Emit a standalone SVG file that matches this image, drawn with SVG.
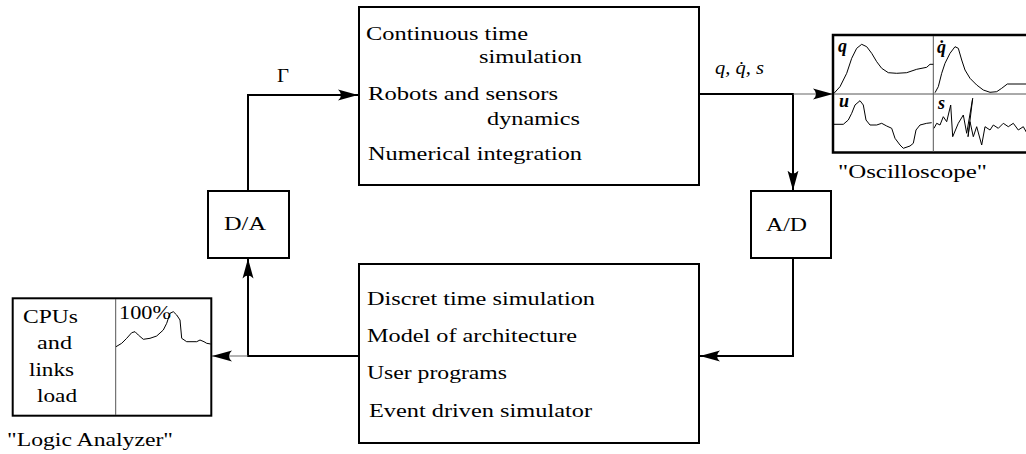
<svg xmlns="http://www.w3.org/2000/svg" width="1026" height="454" viewBox="0 0 1026 454">
<style>
.t{font-family:"Liberation Serif","Times New Roman",serif;font-size:19px;fill:#000}
.m{font-family:"Liberation Serif","Times New Roman",serif;font-style:italic;font-size:19px;fill:#000}
.ml{font-family:"Liberation Serif","Times New Roman",serif;font-style:italic;font-weight:bold;font-size:18px;fill:#000}
.box{fill:#fff;stroke:#000;stroke-width:2}
.div{fill:none;stroke:#555;stroke-width:1}
.wave{fill:none;stroke:#000;stroke-width:1;stroke-linejoin:round}
.c{fill:none;stroke:#000;stroke-width:2}
.cg{fill:none;stroke:#666;stroke-width:1.2}
</style>
<defs>
<marker id="ah" markerUnits="userSpaceOnUse" markerWidth="20" markerHeight="12" viewBox="0 0 20 12" refX="20" refY="6" orient="auto">
<path d="M20,6 L0,0.5 Q6,6 0,11.5 Z" fill="#000"/>
</marker>
</defs>
<rect width="1026" height="454" fill="#fff"/>

<g id="connectors">
<path class="c" d="M248,191 V95 H358" marker-end="url(#ah)"/>
<path class="c" d="M699,94 H793 V190.5" marker-end="url(#ah)"/>
<path class="cg" d="M793,94 H833" marker-end="url(#ah)"/>
<path class="c" d="M793,258 V356 H700" marker-end="url(#ah)"/>
<path class="c" d="M359,356 H248 V258.5" marker-end="url(#ah)"/>
<path class="cg" d="M248,356 H212" marker-end="url(#ah)"/>
<text class="t" x="277" y="82" textLength="12" lengthAdjust="spacingAndGlyphs">Γ</text>
<text class="m" x="715" y="74" textLength="49" lengthAdjust="spacingAndGlyphs">q, q̇, s</text>
</g>

<g id="continuous">
<rect class="box" x="359" y="7" width="340" height="178"/>
<text class="t" x="366" y="40" textLength="162" lengthAdjust="spacingAndGlyphs">Continuous time</text>
<text class="t" x="479" y="63" textLength="103" lengthAdjust="spacingAndGlyphs">simulation</text>
<text class="t" x="368" y="100" textLength="190" lengthAdjust="spacingAndGlyphs">Robots and sensors</text>
<text class="t" x="487" y="125" textLength="93" lengthAdjust="spacingAndGlyphs">dynamics</text>
<text class="t" x="368" y="160" textLength="214" lengthAdjust="spacingAndGlyphs">Numerical integration</text>
</g>

<g id="discrete">
<rect class="box" x="359" y="264" width="340" height="179"/>
<text class="t" x="367" y="305" textLength="228" lengthAdjust="spacingAndGlyphs">Discret time simulation</text>
<text class="t" x="367" y="342" textLength="210" lengthAdjust="spacingAndGlyphs">Model of architecture</text>
<text class="t" x="367" y="379" textLength="140" lengthAdjust="spacingAndGlyphs">User programs</text>
<text class="t" x="369" y="417" textLength="223" lengthAdjust="spacingAndGlyphs">Event driven simulator</text>
</g>

<g id="da">
<rect class="box" x="208" y="191" width="81" height="67"/>
<text class="t" x="224" y="230" textLength="42" lengthAdjust="spacingAndGlyphs">D/A</text>
</g>

<g id="ad">
<rect class="box" x="751" y="191" width="80" height="67"/>
<text class="t" x="766" y="231" textLength="41" lengthAdjust="spacingAndGlyphs">A/D</text>
</g>

<g id="logic-analyzer">
<rect class="box" x="12.7" y="298.3" width="198.6" height="117.4"/>
<line class="div" x1="115.7" y1="299" x2="115.7" y2="415"/>
<text class="t" x="23" y="323" textLength="55" lengthAdjust="spacingAndGlyphs">CPUs</text>
<text class="t" x="37" y="349" textLength="35" lengthAdjust="spacingAndGlyphs">and</text>
<text class="t" x="29" y="376" textLength="45" lengthAdjust="spacingAndGlyphs">links</text>
<text class="t" x="37" y="402" textLength="40" lengthAdjust="spacingAndGlyphs">load</text>
<text class="t" x="119" y="319" textLength="52" lengthAdjust="spacingAndGlyphs">100%</text>
<polyline class="wave" points="116,346.7 121.7,343.3 126.7,338.3 131.7,332.7 135,331.7 138.3,335 143.3,339.3 150,338.3 156.7,336 163.3,330 166.7,323.3 170,313.3 173.3,311.7 176.7,315 180,320 181.7,338.3 186.7,341.7 196.7,341.7 200,340 204,341.7 206.7,343.3 210.7,344"/>
<text class="t" x="7" y="446" textLength="166" lengthAdjust="spacingAndGlyphs">"Logic Analyzer"</text>
</g>

<g id="oscilloscope">
<rect class="box" x="833" y="35" width="200" height="117.5" style="stroke-width:2.5"/>
<line class="div" x1="933.3" y1="36" x2="933.3" y2="152"/>
<line class="div" x1="834" y1="94" x2="1026" y2="94"/>
<polyline class="wave" points="834,93.3 840,86.7 846.7,73.3 851.7,58.3 856.7,48.3 861.7,44.3 866.7,46.7 871.7,53.3 876.7,61.7 881.7,68.3 888.3,72.7 896.7,73.3 906.7,72.7 916.7,69.3 926.7,67.3 930,64.3 933.3,64.3"/>
<polyline class="wave" points="935,92.7 938.3,86.7 941.7,73.3 945,63.3 950,53.3 955,46.7 958.3,48.3 961.7,60 965,70 970,78.3 976.7,85 983.3,90 990,92.3 996.7,91.7 1001.7,88.3 1007.3,84 1027,84"/>
<polyline class="wave" points="834,124.3 843.3,124.3 848.3,120 851.7,113.3 855,105 860,100.7 863.3,105 866,120 870,125 876.7,125 881.7,123.3 886.7,126 891.7,128.3 895,138.3 900,145 903.3,148.3 910,146 913.3,143.3 916,130 920,125 926.7,123.3 931.7,122.7"/>
<polyline class="wave" points="934,128.3 936.7,123.3 940,125 943.3,116.7 946.7,121.7 950.7,105 952.7,136.7 958.3,123.3 963.3,115 966.7,133.3 972.7,98.3 968,136.7 970,121.7 973.3,136.7 976.7,126.7 981.7,145 985,126.7 990,130 993.3,125 998.3,128.3 1003.3,123.3 1008.3,126.7 1013.3,123.3 1018.3,130 1023.3,126.7 1027,133.3"/>
<text class="ml" x="838" y="52">q</text>
<text class="ml" x="937" y="53">q̇</text>
<text class="ml" x="839" y="107">u</text>
<text class="ml" x="938" y="109">s</text>
<text class="t" x="838" y="178" textLength="149" lengthAdjust="spacingAndGlyphs">"Oscilloscope"</text>
</g>
</svg>
